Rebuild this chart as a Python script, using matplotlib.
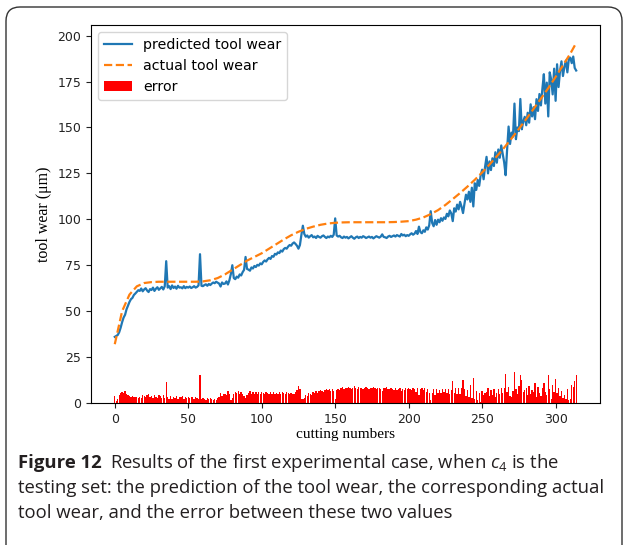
import matplotlib
matplotlib.use("Agg")
import matplotlib.pyplot as plt
import numpy as np
from matplotlib.patches import FancyBboxPatch
from matplotlib.transforms import IdentityTransform

# predicted tool wear, one value per cutting number (0..314)
predicted = [
    36.0, 36.5, 37.0, 38.5, 41.0, 44.0, 46.5, 48.0, 51.0, 53.0,
    55.0, 56.5, 57.2, 58.8, 59.6, 60.5, 61.4, 61.0, 62.3, 60.8,
    61.8, 62.5, 61.2, 60.4, 62.0, 61.5, 62.8, 61.0, 62.2, 63.0,
    61.6, 62.4, 63.2, 61.8, 63.5, 77.2, 62.8, 63.6, 62.0, 64.0,
    62.6, 63.4, 62.2, 63.8, 62.8, 63.0, 62.4, 63.6, 62.5, 63.2,
    62.8, 63.4, 62.6, 63.0, 63.6, 62.8, 63.2, 64.0, 81.0, 63.8,
    63.6, 64.2, 64.6, 63.8, 64.8, 64.2, 65.0, 65.6, 65.2, 66.0,
    65.5, 65.0, 63.4, 65.6, 64.8, 65.0, 66.2, 64.5, 66.8, 70.2,
    75.0, 68.0, 67.4, 68.8, 68.2, 70.0, 69.4, 71.2, 72.5, 79.5,
    73.0, 72.6, 72.0, 73.8, 73.2, 74.6, 74.0, 75.2, 74.8, 76.0,
    75.5, 76.8, 77.6, 77.0, 78.2, 79.0, 78.4, 80.0, 79.6, 81.2,
    80.8, 82.0, 81.6, 83.0, 82.4, 83.8, 84.4, 84.0, 85.2, 86.0,
    85.6, 86.8, 87.4, 86.6, 85.6, 84.0, 86.0, 91.5, 96.5, 92.0,
    90.5, 91.2, 90.0, 90.8, 91.4, 90.2, 90.6, 89.8, 91.0, 90.4,
    90.0, 90.8, 91.2, 90.4, 89.8, 90.6, 90.2, 91.0, 90.4, 91.6,
    100.5, 91.2, 90.6, 91.0, 90.2, 89.8, 90.6, 90.0, 90.4, 89.6,
    90.2, 90.8, 90.0, 89.4, 90.2, 90.6, 89.8, 90.4, 90.0, 90.8,
    90.4, 89.8, 90.2, 90.6, 90.0, 90.4, 89.6, 90.2, 90.8, 90.4,
    90.0, 90.6, 91.8, 90.4, 90.2, 89.8, 90.6, 91.0, 90.4, 90.8,
    91.2, 90.6, 91.4, 91.0, 90.6, 92.0, 91.2, 91.6, 90.8, 91.4,
    91.0, 91.8, 92.4, 91.6, 92.2, 93.6, 92.0, 96.0, 93.0, 92.4,
    94.0, 93.2, 95.6, 94.4, 96.8, 104.4, 98.0, 96.2, 99.6, 97.0,
    99.8, 98.4, 100.6, 99.2, 101.0, 100.2, 103.0, 101.6, 104.8, 103.2,
    99.0, 106.0, 104.2, 108.0, 105.4, 109.5, 106.8, 103.4, 108.6, 113.4,
    110.8, 115.0, 109.5, 117.2, 107.0, 119.6, 116.0, 121.4, 118.2, 124.0,
    127.0, 121.8, 128.6, 134.0, 125.0, 131.5, 126.8, 133.2, 129.0, 136.5,
    130.8, 138.0, 133.5, 140.2, 135.6, 131.0, 124.0, 138.0, 150.5, 141.0,
    147.2, 145.0, 163.0, 143.6, 150.0, 148.0, 165.5, 149.0, 153.4, 155.8,
    151.2, 158.0, 152.6, 162.6, 156.0, 161.0, 154.5, 165.4, 159.0, 168.2,
    162.0, 171.0, 179.0, 163.0, 174.4, 156.0, 180.0, 176.0, 168.0, 182.0,
    164.5, 184.4, 172.0, 180.6, 186.0, 178.0, 183.0, 186.4, 180.0, 187.2,
    188.0, 185.0, 188.6, 182.4, 181.0,
]

# actual tool wear, read every 5 cutting numbers (and the last one)
actual_x = list(range(0, 315, 5)) + [314]
actual = [
    32.0, 50.0, 59.0, 63.5, 65.3, 65.8, 66.0, 66.0, 66.0, 66.0,
    66.0, 66.0, 66.2, 66.8, 68.0, 70.0, 72.5, 75.0, 77.5, 79.5,
    81.5, 84.0, 86.5, 89.0, 91.3, 93.2, 94.8, 96.0, 97.0, 97.7,
    98.1, 98.3, 98.4, 98.4, 98.4, 98.4, 98.4, 98.4, 98.5, 98.7,
    99.0, 99.8, 101.0, 102.8, 105.0, 107.8, 111.0, 114.3, 117.8, 121.5,
    125.5, 129.8, 134.3, 139.0, 144.0, 149.2, 154.6, 160.1, 165.7, 171.4,
    177.5, 183.8, 190.2, 196.0,
]

# error bars, one per cutting number
error = [
    4.0, 0.9, 2.2, 4.3, 5.4, 6.0, 5.5, 6.5, 5.0, 4.5,
    4.0, 3.5, 3.8, 3.2, 3.4, 3.0, 2.6, 3.5, 2.5, 4.2,
    3.7, 3.0, 4.3, 5.1, 3.5, 4.0, 2.7, 4.5, 3.3, 2.5,
    4.4, 3.6, 2.8, 4.2, 2.5, 11.2, 3.2, 2.4, 4.0, 2.0,
    3.4, 2.6, 3.8, 2.2, 3.2, 3.0, 3.6, 2.4, 3.5, 2.8,
    3.2, 2.6, 3.4, 3.0, 2.4, 3.2, 2.8, 2.0, 15.0, 2.2,
    2.6, 2.1, 1.8, 2.7, 1.9, 2.6, 2.0, 1.7, 2.3, 1.8,
    2.5, 3.4, 5.4, 3.6, 4.8, 5.0, 4.3, 6.5, 4.7, 1.8,
    2.5, 5.0, 6.1, 5.2, 6.3, 5.0, 6.1, 4.8, 4.0, 2.5,
    4.5, 5.3, 6.3, 4.9, 5.9, 4.9, 5.9, 5.1, 5.9, 5.1,
    6.0, 5.2, 4.9, 6.0, 5.3, 5.0, 6.1, 5.0, 5.9, 4.8,
    5.7, 5.0, 5.9, 5.0, 6.1, 5.2, 5.1, 6.0, 5.2, 4.9,
    5.7, 4.9, 4.7, 5.9, 7.2, 9.2, 7.5, 2.3, 2.3, 2.5,
    4.3, 3.8, 5.3, 4.7, 4.4, 5.8, 5.6, 6.6, 5.6, 6.4,
    7.0, 6.3, 6.0, 6.9, 7.6, 6.9, 7.4, 6.7, 7.4, 6.3,
    2.4, 6.9, 7.6, 7.2, 8.1, 8.5, 7.7, 8.3, 7.9, 8.7,
    8.2, 7.6, 8.4, 9.0, 8.2, 7.8, 8.6, 8.0, 8.4, 7.6,
    8.0, 8.6, 8.2, 7.8, 8.4, 8.0, 8.8, 8.2, 7.6, 8.0,
    8.4, 7.8, 6.6, 8.0, 8.2, 8.6, 7.8, 7.4, 8.0, 7.6,
    7.3, 7.9, 7.1, 7.5, 8.0, 6.7, 7.5, 7.1, 8.0, 7.4,
    8.0, 7.4, 6.9, 7.9, 7.4, 6.2, 8.0, 4.3, 7.5, 8.4,
    7.0, 8.2, 6.1, 7.7, 5.6, 1.6, 5.2, 7.5, 4.5, 7.6,
    5.2, 7.2, 5.5, 7.5, 6.2, 7.6, 5.4, 7.4, 4.9, 7.1,
    12.0, 5.7, 8.1, 5.0, 8.2, 4.8, 8.2, 12.3, 7.8, 3.7,
    7.0, 3.5, 9.8, 2.8, 13.8, 1.9, 6.3, 1.7, 5.7, 0.7,
    6.5, 4.6, 5.4, 5.9, 7.9, 3.7, 6.9, 4.6, 7.5, 3.1,
    5.5, 7.8, 4.7, 8.1, 5.5, 8.0, 16.0, 6.0, 8.5, 4.0,
    3.2, 6.4, 16.9, 7.5, 4.8, 9.2, 15.2, 12.4, 5.9, 7.3,
    8.4, 4.3, 9.2, 4.7, 7.0, 5.9, 10.7, 3.1, 8.5, 5.6,
    3.7, 8.2, 11.0, 6.1, 4.1, 15.4, 7.4, 2.3, 9.9, 6.0,
    13.0, 5.6, 8.0, 3.7, 6.5, 2.8, 4.1, 2.4, 7.6, 1.7,
    2.2, 9.6, 8.5, 12.1, 15.0,
]

cutting = np.arange(len(predicted))

plt.rcParams["mathtext.fontset"] = "custom"
plt.rcParams["mathtext.rm"] = "Open Sans"
plt.rcParams["mathtext.it"] = "Open Sans:italic"

fig = plt.figure(figsize=(6.24, 5.45), dpi=100)
ax = fig.add_axes([0.1458, 0.2606, 0.8157, 0.6936])

ax.plot(cutting, predicted, color="#1f77b4", lw=1.6, label="predicted tool wear")
ax.plot(actual_x, actual, color="#ff7f0e", lw=1.6, ls="--", label="actual tool wear")
ax.bar(cutting, error, width=0.9, color="red", linewidth=0, label="error")

ax.set_yticks([0, 25, 50, 75, 100, 125, 150, 175, 200])
ax.set_xticks([0, 50, 100, 150, 200, 250, 300])
ax.tick_params(labelsize=9, colors="#222222")
ax.set_xlabel("cutting numbers", family="Liberation Serif", fontsize=11, labelpad=2)
ax.set_ylabel("tool wear (\u03bcm)", family="Liberation Serif", fontsize=11.5, labelpad=4)
ax.legend(loc="upper left", fontsize=10.2, handlelength=2.0, borderaxespad=0.5)

# rounded frame around the figure
frame = FancyBboxPatch((6, -20), 616, 558, boxstyle="round,pad=0,rounding_size=14",
                       transform=IdentityTransform(), fill=False,
                       edgecolor="#333333", lw=1.0)
fig.patches.append(frame)

# caption
cap_col = "#231f20"
W, H = 624, 545
fs = 13.3
bold = fig.text(18 / W, 1 - 468 / H, "Figure 12", fontsize=fs, family="Open Sans",
                weight="bold", color=cap_col, va="baseline")
r = fig.canvas.get_renderer()
bb = bold.get_window_extent(r)
fig.text((bb.x1 + 8) / W, 1 - 468 / H,
         "Results of the first experimental case, when $c_4$ is the",
         fontsize=fs, family="Open Sans", color=cap_col, va="baseline")
fig.text(18 / W, 1 - 493 / H,
         "testing set: the prediction of the tool wear, the corresponding actual",
         fontsize=fs, family="Open Sans", color=cap_col, va="baseline")
fig.text(18 / W, 1 - 518 / H,
         "tool wear, and the error between these two values",
         fontsize=fs, family="Open Sans", color=cap_col, va="baseline")

fig.savefig("out.png", dpi=100)
